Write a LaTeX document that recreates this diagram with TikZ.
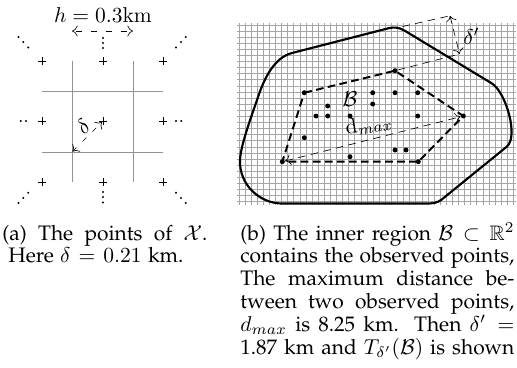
\documentclass[tikz,border=0pt]{standalone}
\usepackage[T1]{fontenc}
\usepackage{palatino}
\usepackage{amssymb}
\usetikzlibrary{arrows.meta}
\newcommand\capbw{127.4pt}
\newcommand\capaw{95.3pt}
\newcommand\capaww{81.4pt}
\begin{document}
\begin{tikzpicture}[x=0.465pt,y=-0.465pt,
  >={Computer Modern Rightarrow[length=2.6pt,width=5pt]},
  gridA/.style={draw=gray!85, line width=0.45pt},
  gridB/.style={draw=gray!70, line width=0.4pt},
  plusmark/.style={draw=black, line width=0.4pt},
  obs/.style={circle, fill=black, inner sep=0pt, minimum size=2.3pt},
  thindash/.style={draw=black, line width=0.3pt, dash pattern=on 3.5pt off 2.5pt},
  regionline/.style={draw=black, line width=0.9pt, dash pattern=on 3.6pt off 2pt},
  outerline/.style={draw=black, line width=1pt},
  lbl/.style={inner sep=0pt},
  capline/.style={inner sep=0pt, anchor=base west, text height=7pt, text depth=2pt,
                  font=\fontsize{9.75pt}{11pt}\selectfont},
]
\useasboundingbox (0,0) rectangle (517,367);

% ---------------- panel (a) ----------------
\draw[gridA] (72,61) -- (72,182);
\draw[gridA] (133,61) -- (133,182);
\draw[gridA] (42,91) -- (163,91);
\draw[gridA] (42,152) -- (163,152);

\foreach \x/\y in {42/61,103/61,163/61,42/121,103/121,163/121,42/182,103/182,163/182}
  \draw[plusmark] ({\x-3.6},\y) -- ({\x+3.6},\y) (\x,{\y-3.6}) -- (\x,{\y+3.6});

\foreach \x/\y in {18.5/37,23.3/42,28.2/47.5, 103/38,103/43,103/48, 176/47.5,181/42,185.8/37,
                   20.7/121,26/121, 176/121,181.3/121,
                   18.5/203,23.3/198,28.2/192.8, 103/192,103/197,103/202.5,
                   176/192.8,181/198,185.8/203}
  \fill (\x,\y) circle[radius=0.5pt];

\node[lbl, anchor=base] (hlab) at (103,22) {$h = 0.3\mathrm{km}$};
\coordinate (hl) at (72,31);
\coordinate (hr) at (133,31);
\draw[<->, line width=0.3pt, dash pattern=on 3pt off 4pt, dash phase=-1.5pt] (hl) -- (hr);

\coordinate (ca) at (102,122);
\coordinate (cc) at (72.5,151.5);
\draw[<->, line width=0.3pt, dash pattern=on 2.5pt off 4pt, dash phase=3pt] (ca) -- (cc);
\node[lbl, rotate=40] (dlab) at (83,126) {$\delta$};

\node[capline] (capa1) at (2,240) {\makebox[\capaw][s]{(a) The points of $\mathcal{X}$.}};
\node[capline] (capa2) at (8,262.8) {\makebox[\capaww][s]{Here $\delta = 0.21$ km.}};

% ---------------- panel (b) ----------------
\foreach \i in {0,...,45}
  \draw[gridB] ({239+6.1*\i},23) -- ({239+6.1*\i},205);
\foreach \j in {0,...,29}
  \draw[gridB] (237,{25+6.1*\j}) -- (515.5,{25+6.1*\j});

\draw[outerline] (292,53) -- (388.3,28.3)
  .. controls (394.5,26.7) and (399.5,27.5) .. (404.7,30.7)
  -- (491.7,83.3)
  .. controls (505.7,91.8) and (519,136.6) .. (506.7,146.7)
  -- (441.7,199.5)
  .. controls (437.8,202.8) and (432,203.5) .. (428,203.5)
  -- (282,203.5)
  .. controls (260,203.5) and (239,185) .. (240,160)
  .. controls (240.5,145) and (253,112) .. (258,97)
  .. controls (264,79) and (274,57.6) .. (292,53) -- cycle;

\node[obs] (bTL) at (304.3,92.7) {};
\node[obs] (bTop) at (395,70.7) {};
\node[obs] (bR) at (463.3,116) {};
\node[obs] (bBR) at (418.3,161.7) {};
\node[obs] (bBL) at (282.3,161.7) {};
\foreach \n/\x/\y in {o1/327.7/106, o2/316/116, o3/327.7/116, o4/350/116,
                      o5/372.7/92.7, o6/372.7/104, o7/395/92.7, o8/417.7/92.7,
                      o9/417.7/116, o10/304.3/137.7, o11/395/150, o12/406/150,
                      o13/350/156.7}
  \node[obs] (\n) at (\x,\y) {};

\draw[regionline] (bTL.center) -- (bTop.center) -- (bR.center) -- (bBR.center) -- (bBL.center) -- cycle;

\draw[thindash, <->] (bBL) -- (bR);
\node[lbl, rotate=10] (dmax) at (369,124.5) {$\mathrm{d}_{max}$};
\node[lbl] (Blab) at (350,99.5) {$\mathcal{B}$};

\coordinate (q1) at (459.5,54);
\coordinate (q2) at (450,15.8);
\coordinate (q0) at (402.5,26.5);
\draw[thindash] (bTop) -- (q1);
\draw[thindash] (q0) -- (q2);
\draw[thindash, <->] (q2) -- (q1);
\node[lbl] (dplab) at (471.5,36.5) {$\delta'$};

\node[capline] (capb1) at (240,240) {\makebox[\capbw][s]{(b) The inner region $\mathcal{B}\subset\mathbb{R}^2$}};
\node[capline] (capb2) at (240,262.8) {\makebox[\capbw][s]{contains the observed points,}};
\node[capline] (capb3) at (240,285.6) {\makebox[\capbw][s]{The maximum distance be-}};
\node[capline] (capb4) at (240,308.4) {\makebox[\capbw][s]{tween two observed points,}};
\node[capline] (capb5) at (240,331.2) {\makebox[\capbw][s]{$d_{max}$ is 8.25 km. Then $\delta' =$}};
\node[capline] (capb6) at (240,354) {\makebox[\capbw][s]{1.87 km and $T_{\delta'}(\mathcal{B})$ is shown}};
\end{tikzpicture}
\end{document}
